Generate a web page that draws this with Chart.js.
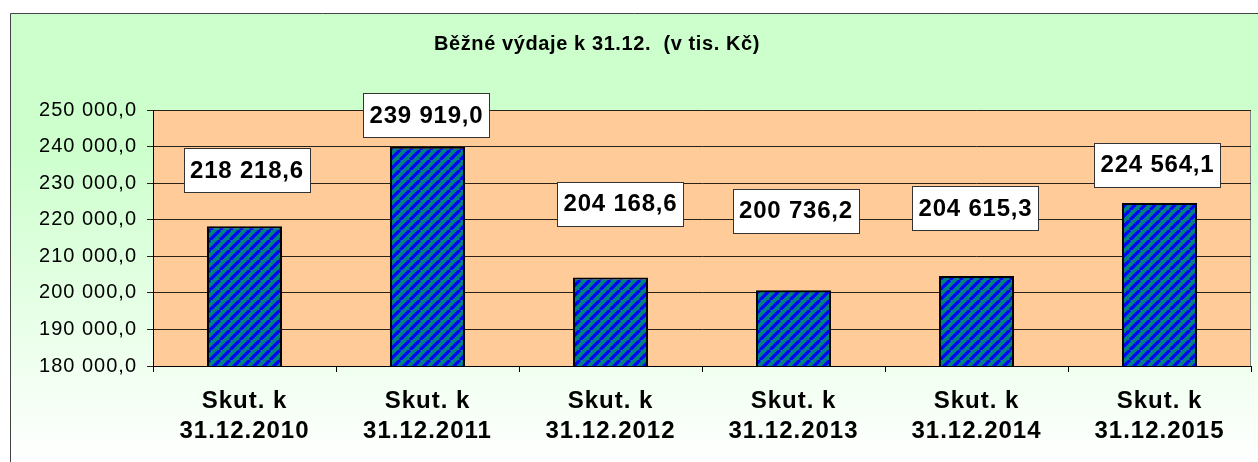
<!DOCTYPE html>
<html>
<head>
<meta charset="utf-8">
<script src="https://cdn.jsdelivr.net/npm/chart.js@4/dist/chart.umd.min.js"></script>
<style>
  html, body { margin: 0; padding: 0; background: #ffffff; }
  #wrap { width: 1258px; height: 462px; position: relative; }
</style>
</head>
<body>
<div id="wrap"><canvas id="c" width="1258" height="462"></canvas></div>
<script>
// ---- data ----
const titleText = 'Běžné výdaje k 31.12.  (v tis. Kč)';
const categories = [
  ['Skut. k', '31.12.2010'],
  ['Skut. k', '31.12.2011'],
  ['Skut. k', '31.12.2012'],
  ['Skut. k', '31.12.2013'],
  ['Skut. k', '31.12.2014'],
  ['Skut. k', '31.12.2015']
];
const values = [218218.6, 239919.0, 204168.6, 200736.2, 204615.3, 224564.1];
const yMin = 180000;
const yMax = 250000;
const yStep = 10000;

// label box placement (pixel offsets from bar top centre)
const labelDx = [2, -1.5, 9.5, 2, -1.5, -2.5];
const labelDy = [-56, -31.5, -74, -79.5, -68, -38.5];

const FONT = '"Liberation Sans", Arial, Helvetica, sans-serif';

function fmt(v) {
  const s = v.toFixed(1);
  const parts = s.split('.');
  const intPart = parts[0].replace(/\B(?=(\d{3})+(?!\d))/g, ' ');
  return intPart + ',' + parts[1];
}

// striped pattern (blue / teal diagonal)
function makePattern() {
  const size = 10;
  const pc = document.createElement('canvas');
  pc.width = size; pc.height = size;
  const p = pc.getContext('2d');
  p.fillStyle = '#008080';
  p.fillRect(0, 0, size, size);
  p.strokeStyle = '#0000ff';
  p.lineWidth = 3.2;
  p.beginPath();
  for (let k = -1; k <= 1; k++) {
    p.moveTo(k * size, size);
    p.lineTo(k * size + size, 0);
  }
  p.stroke();
  return document.getElementById('c').getContext('2d').createPattern(pc, 'repeat');
}

function setSpacing(chart) {
  try { chart.ctx.letterSpacing = '1px'; } catch (e) {}
}

const bgPlugin = {
  id: 'bgPlugin',
  beforeLayout(chart) { setSpacing(chart); },
  beforeDraw(chart) {
    setSpacing(chart);
    const ctx = chart.ctx;
    const W = chart.width, H = chart.height;
    ctx.save();
    ctx.fillStyle = '#ffffff';
    ctx.fillRect(0, 0, W, H);
    const g = ctx.createLinearGradient(0, 13, 0, H);
    g.addColorStop(0, '#ccffcc');
    g.addColorStop(0.3, '#ccffcc');
    g.addColorStop(1, '#ffffff');
    ctx.fillStyle = g;
    ctx.fillRect(10, 13, W - 10, H - 13);
    ctx.strokeStyle = '#444444';
    ctx.lineWidth = 1;
    ctx.beginPath();
    ctx.moveTo(10.5, H + 5);
    ctx.lineTo(10.5, 13.5);
    ctx.lineTo(W + 5, 13.5);
    ctx.stroke();
    // plot area
    const a = chart.chartArea;
    ctx.fillStyle = '#ffcc99';
    ctx.fillRect(a.left, a.top, a.right - a.left, a.bottom - a.top);
    ctx.strokeStyle = '#808080';
    ctx.strokeRect(a.left + 0.5, a.top + 0.5, a.right - a.left - 1, a.bottom - a.top);
    // title
    ctx.fillStyle = '#000000';
    ctx.font = 'bold 20px ' + FONT;
    try { ctx.letterSpacing = '0.6px'; } catch (e) {}
    ctx.textAlign = 'center';
    ctx.textBaseline = 'middle';
    ctx.fillText(titleText, 597, 44);
    ctx.restore();
  }
};

const labelPlugin = {
  id: 'labelPlugin',
  afterDatasetsDraw(chart) {
    const ctx = chart.ctx;
    const meta = chart.getDatasetMeta(0);
    ctx.save();
    try { ctx.letterSpacing = '0.8px'; } catch (e) {}
    ctx.font = 'bold 24px ' + FONT;
    ctx.textAlign = 'center';
    ctx.textBaseline = 'middle';
    meta.data.forEach((bar, i) => {
      const txt = fmt(values[i]);
      const cx = bar.x + labelDx[i];
      const cy = bar.y + labelDy[i];
      const w = 126;
      const h = 44;
      const x0 = Math.round(cx - w / 2), y0 = Math.round(cy - h / 2);
      ctx.fillStyle = '#ffffff';
      ctx.fillRect(x0, y0, w, h);
      ctx.strokeStyle = '#333333';
      ctx.lineWidth = 1;
      ctx.strokeRect(x0 + 0.5, y0 + 0.5, w, h);
      ctx.fillStyle = '#000000';
      ctx.fillText(txt, cx + 0.5, cy + 1);
    });
    ctx.restore();
  }
};

const ctx = document.getElementById('c').getContext('2d');
new Chart(ctx, {
  type: 'bar',
  data: {
    labels: categories,
    datasets: [{
      data: values,
      backgroundColor: makePattern(),
      borderColor: '#000000',
      borderWidth: 2,
      borderSkipped: false,
      barPercentage: 0.41,
      categoryPercentage: 1.0
    }]
  },
  options: {
    responsive: false,
    animation: false,
    devicePixelRatio: 1,
    layout: { padding: { top: 110, right: 7, left: 0, bottom: 0 } },
    plugins: {
      legend: { display: false },
      title: { display: false },
      tooltip: { enabled: false }
    },
    scales: {
      x: {
        offset: true,
        afterFit(scale) { scale.height = 96; },
        grid: {
          display: true,
          drawOnChartArea: false,
          drawTicks: true,
          tickLength: 6,
          color: '#000000',
          offset: true
        },
        border: { display: true, color: '#000000', width: 1 },
        ticks: {
          color: '#000000',
          padding: 14,
          maxRotation: 0,
          autoSkip: false,
          font: { family: FONT, size: 24, weight: 'bold', lineHeight: 1.25 }
        }
      },
      y: {
        min: yMin,
        max: yMax,
        afterFit(scale) { scale.width = 153; },
        grid: {
          color: '#2a2015',
          lineWidth: 1,
          drawTicks: true,
          tickLength: 6
        },
        border: { display: true, color: '#000000', width: 1 },
        ticks: {
          stepSize: yStep,
          color: '#000000',
          padding: 10,
          font: { family: FONT, size: 20 },
          callback: (v) => fmt(v)
        }
      }
    }
  },
  plugins: [bgPlugin, labelPlugin]
});
</script>
</body>
</html>
